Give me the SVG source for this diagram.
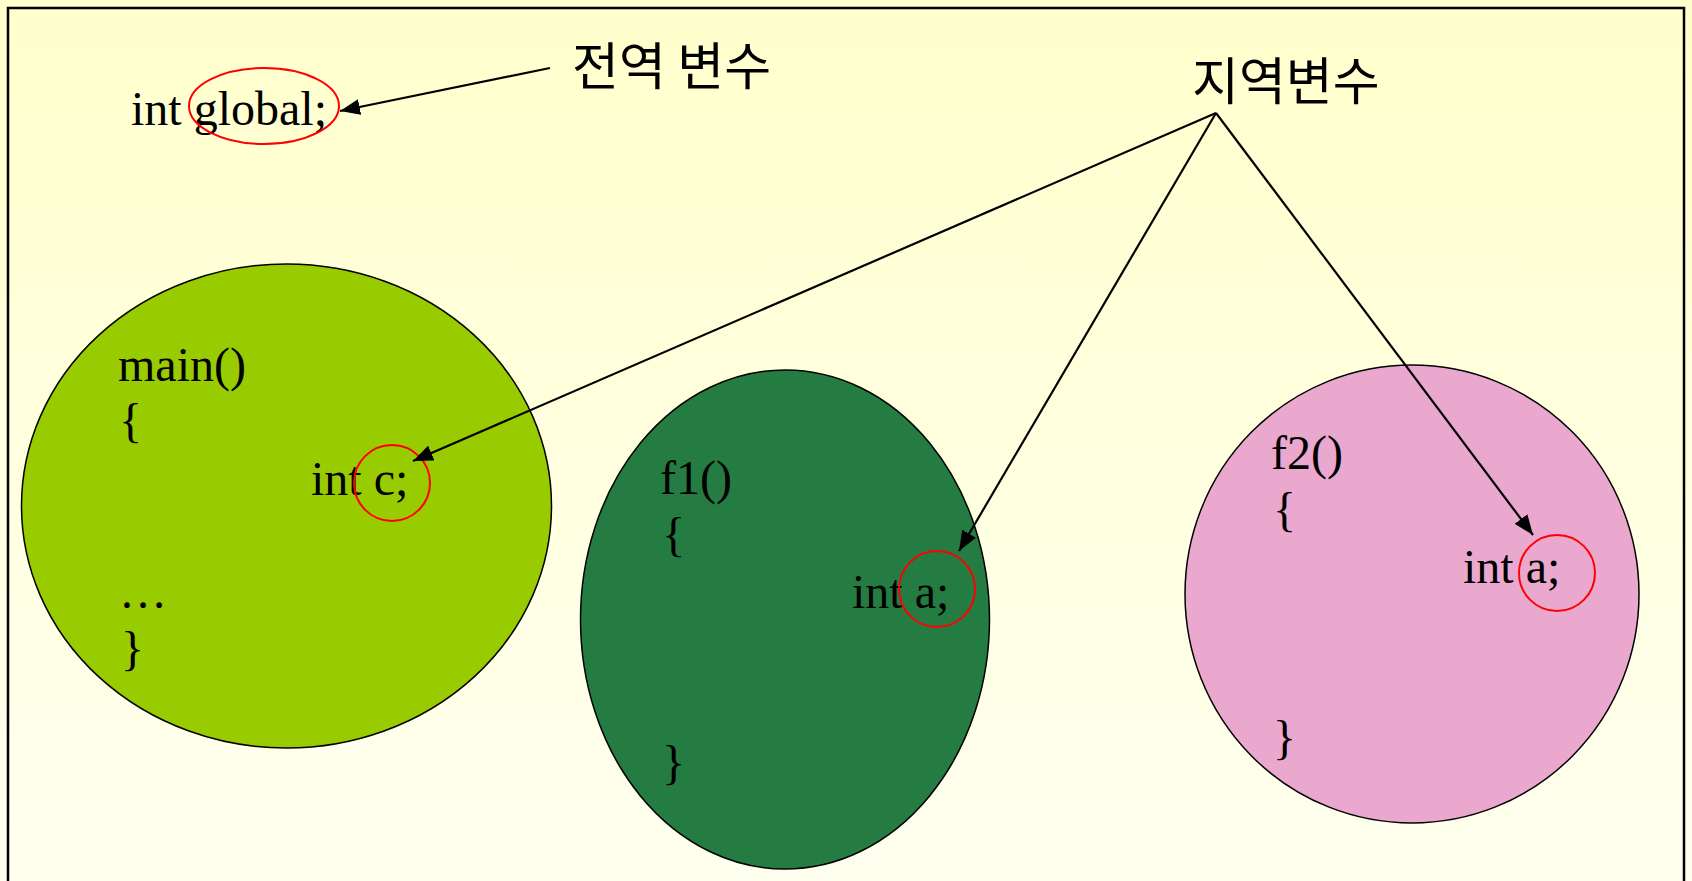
<svg xmlns="http://www.w3.org/2000/svg" width="1692" height="881" viewBox="0 0 1692 881">
<defs>
<linearGradient id="bg" x1="0" y1="0" x2="0" y2="1">
<stop offset="0" stop-color="#FFFFCC"/>
<stop offset="1" stop-color="#FFFFF0"/>
</linearGradient>
<marker id="arr" markerUnits="userSpaceOnUse" markerWidth="22" markerHeight="16" refX="20" refY="8" orient="auto">
<path d="M0,0 L20,8 L0,16 Z" fill="#000"/>
</marker>
<style>
.code{font-family:"Liberation Serif","Times New Roman",serif;font-size:48px;fill:#000}
.kor{font-family:"Noto Sans CJK KR","Noto Sans",sans-serif;font-size:51px;fill:#000}
.blob{stroke:#000;stroke-width:1.5}
.mark{fill:none;stroke:#FF0000;stroke-width:2}
.conn{fill:none;stroke:#000;stroke-width:2.2}
</style>
</defs>
<rect x="0" y="0" width="1692" height="881" fill="url(#bg)"/>
<rect x="8" y="8" width="1676" height="900" fill="none" stroke="#000" stroke-width="2.5"/>

<g id="global">
<text class="code" x="131" y="125">int global;</text>
<ellipse class="mark" cx="264" cy="106" rx="75" ry="38"/>
</g>

<g id="label-global">
<text class="kor" x="572" y="85">전역 변수</text>
</g>

<g id="label-local">
<text class="kor" x="1192" y="100">지역변수</text>
</g>

<g id="main">
<ellipse class="blob" cx="286.5" cy="506" rx="265" ry="242" fill="#99CC00"/>
<text class="code" x="118" y="381">main()</text>
<text class="code" x="119" y="437">{</text>
<text class="code" x="311" y="495">int c;</text>
<text class="code" x="119" y="608">…</text>
<text class="code" x="121" y="665">}</text>
<circle class="mark" cx="392" cy="483" r="38"/>
</g>

<g id="f1">
<ellipse class="blob" cx="785" cy="619.5" rx="204.5" ry="249.5" fill="#257C42"/>
<text class="code" x="660" y="494">f1()</text>
<text class="code" x="662" y="551">{</text>
<text class="code" x="852" y="608">int a;</text>
<text class="code" x="662" y="779">}</text>
<circle class="mark" cx="937" cy="589" r="38"/>
</g>

<g id="f2">
<ellipse class="blob" cx="1412" cy="594" rx="227" ry="229" fill="#EBA8CF"/>
<text class="code" x="1271" y="469">f2()</text>
<text class="code" x="1273" y="526">{</text>
<text class="code" x="1463" y="583">int a;</text>
<text class="code" x="1273" y="754">}</text>
<circle class="mark" cx="1557" cy="573" r="38"/>
</g>

<g id="connectors">
<path class="conn" d="M550,68 L340,111" marker-end="url(#arr)"/>
<path class="conn" d="M1216,113 L413,461" marker-end="url(#arr)"/>
<path class="conn" d="M1216,113 L959,551" marker-end="url(#arr)"/>
<path class="conn" d="M1216,113 L1533,535" marker-end="url(#arr)"/>
</g>
</svg>
